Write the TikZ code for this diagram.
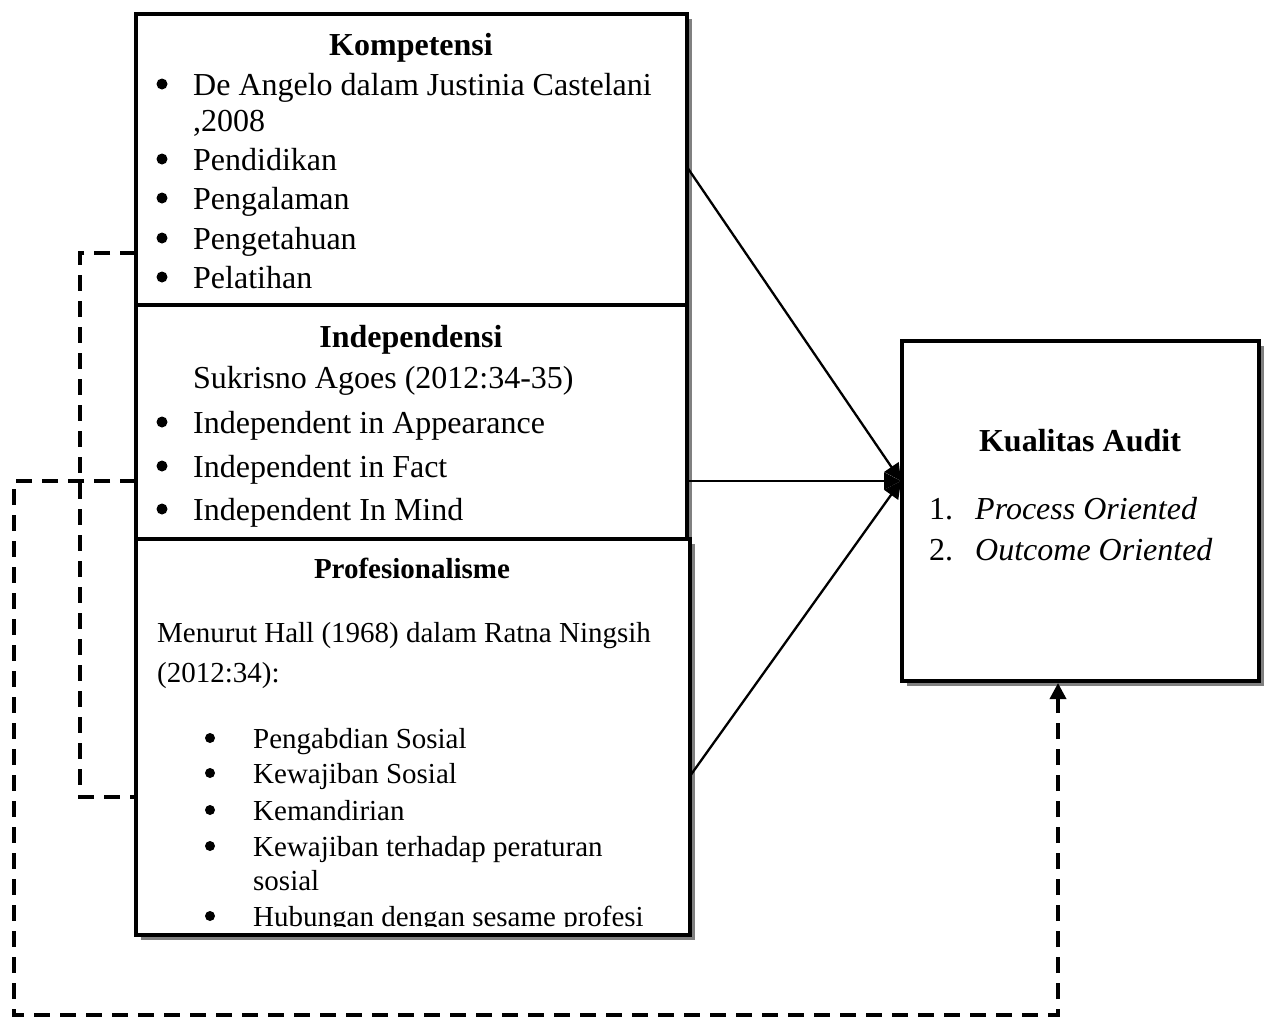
\documentclass[tikz,border=0pt]{standalone}
\usepackage{fontspec}
\setmainfont{Liberation Serif}
\usetikzlibrary{shadows,arrows.meta}
\begin{document}
\begin{tikzpicture}[
  x=1pt,y=-1pt,
  box/.style={draw,line width=4pt,fill=white,rectangle,anchor=north west,
    inner sep=0pt,outer sep=0pt,
    drop shadow={shadow xshift=5pt,shadow yshift=-5pt,fill=black!50,opacity=1}},
  big/.style={font=\fontsize{32}{38}\selectfont,inner sep=0pt},
  bigb/.style={font=\fontsize{32}{38}\bfseries\selectfont,inner sep=0pt,anchor=base},
  small/.style={font=\fontsize{29}{35}\selectfont,inner sep=0pt},
  smallb/.style={font=\fontsize{29}{35}\bfseries\selectfont,inner sep=0pt,anchor=base},
  line/.style={anchor=base west},
  bul/.style={circle,fill,inner sep=0pt,minimum size=11pt},
  sbul/.style={circle,fill,inner sep=0pt,minimum size=10pt},
  link/.style={line width=2.3pt,-{Triangle[length=17pt,width=17pt]}},
  dline/.style={line width=3.5pt,dash pattern=on 16pt off 10pt}
]
  \useasboundingbox (0,0) rectangle (1269,1018);

  % boxes
  \node[box,minimum width=551pt,minimum height=291pt] (komp)  at (136,14)  {};
  \node[box,minimum width=551pt,minimum height=234pt] (indep) at (136,305) {};
  \node[box,minimum width=554pt,minimum height=396pt] (prof)  at (136,539) {};
  \node[box,minimum width=357pt,minimum height=340pt] (kual)  at (902,341) {};

  % Kompetensi
  \node[bigb] (kompt) at (411,55) {Kompetensi};
  \node[bul] (kb1) at (162,84)  {};
  \node[big,line] (k1) at (193,95)  {De Angelo dalam Justinia Castelani};
  \node[big,line] (k2) at (193,131) {,2008};
  \node[bul] (kb3) at (162,159) {};
  \node[big,line] (k3) at (193,170) {Pendidikan};
  \node[bul] (kb4) at (162,198) {};
  \node[big,line] (k4) at (193,209) {Pengalaman};
  \node[bul] (kb5) at (162,238) {};
  \node[big,line] (k5) at (193,249) {Pengetahuan};
  \node[bul] (kb6) at (162,277) {};
  \node[big,line] (k6) at (193,288) {Pelatihan};

  % Independensi
  \node[bigb] (indept) at (411,347) {Independensi};
  \node[big,line] (i1) at (193,388) {Sukrisno Agoes (2012:34-35)};
  \node[bul] (ib2) at (162,422) {};
  \node[big,line] (i2) at (193,433) {Independent in Appearance};
  \node[bul] (ib3) at (162,466) {};
  \node[big,line] (i3) at (193,477) {Independent in Fact};
  \node[bul] (ib4) at (162,509) {};
  \node[big,line] (i4) at (193,520) {Independent In Mind};

  % Profesionalisme
  \node[smallb] (proft) at (412,578) {Profesionalisme};
  \node[small,line] (p1) at (157,642) {Menurut Hall (1968) dalam Ratna Ningsih};
  \node[small,line] (p2) at (157,682) {(2012:34):};
  \node[sbul] (pb3) at (210,738) {};
  \node[small,line] (p3) at (253,748) {Pengabdian Sosial};
  \node[sbul] (pb4) at (210,773) {};
  \node[small,line] (p4) at (253,783) {Kewajiban Sosial};
  \node[sbul] (pb5) at (210,810) {};
  \node[small,line] (p5) at (253,820) {Kemandirian};
  \node[sbul] (pb6) at (210,846) {};
  \node[small,line] (p6) at (253,856) {Kewajiban terhadap peraturan};
  \node[small,line] (p7) at (253,890) {sosial};
  \begin{scope}
    \clip (140,895) rectangle (686,926);
    \node[sbul] (pb8) at (210,916) {};
    \node[small,line] (p8) at (253,926) {Hubungan dengan sesame profesi};
  \end{scope}

  % Kualitas Audit
  \node[bigb] (kualt) at (1080,451) {Kualitas Audit};
  \node[big,line] (q1n) at (929,519) {1.};
  \node[big,line] (q1) at (975,519) {\itshape Process Oriented};
  \node[big,line] (q2n) at (929,560) {2.};
  \node[big,line] (q2) at (975,560) {\itshape Outcome Oriented};

  % connectors
  \coordinate (ke) at (687,167);
  \coordinate (ie) at (687,481);
  \coordinate (pe) at (690,776);
  \coordinate (kw) at (901,481);
  \draw[link] (ke) -- (kw);
  \draw[link] (ie) -- (kw);
  \draw[link] (pe) -- (kw);

  \coordinate (kl) at (136,253);
  \coordinate (pl) at (136,797);
  \coordinate (il) at (136,481);
  \coordinate (ks) at (1058,683);
  \draw[dline] (kl) -- ++(-56,0) |- (pl);
  \draw[dline,-{Triangle[length=16pt,width=16pt]}] (il) -- ++(-122,0) -- ++(0,534) -| (ks);
\end{tikzpicture}
\end{document}
